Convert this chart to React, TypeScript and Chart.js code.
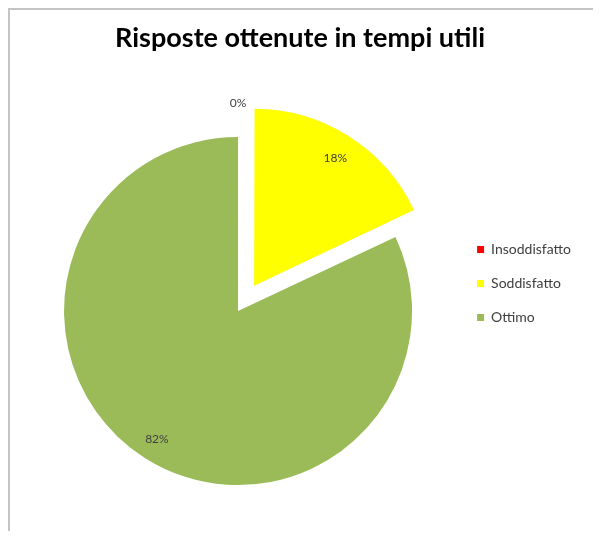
import React, { useEffect, useRef } from 'react';
import { Chart, registerables } from 'chart.js';

Chart.register(...registerables);

const titleText = 'Risposte ottenute in tempi utili';
const categories = ['Insoddisfatto', 'Soddisfatto', 'Ottimo'];
const values = [0, 18, 82];
const colors = ['#FF0000', '#FFFF00', '#9BBB59'];
const explodeOffsets = [0, 120, 0];

const pctLabels = {
  id: 'pctLabels',
  afterDatasetsDraw(chart: any) {
    const ctx = chart.ctx;
    const meta = chart.getDatasetMeta(0);
    const data: number[] = chart.data.datasets[0].data;
    const total = data.reduce((a, b) => a + b, 0);
    ctx.save();
    ctx.font = '12px Lato';
    ctx.fillStyle = '#404040';
    ctx.textAlign = 'center';
    ctx.textBaseline = 'middle';
    meta.data.forEach((arc: any, i: number) => {
      const { x, y, startAngle, endAngle, outerRadius } = arc.getProps(
        ['x', 'y', 'startAngle', 'endAngle', 'outerRadius'],
        true
      );
      const mid = (startAngle + endAngle) / 2;
      const off = ((arc.options && arc.options.offset) || 0) / 4;
      const dist = data[i] === 0 ? outerRadius + 34 : outerRadius * 0.87;
      const px = x + Math.cos(mid) * (off + dist);
      const py = y + Math.sin(mid) * (off + dist);
      ctx.fillText(Math.round((data[i] / total) * 100) + '%', px, py);
    });
    ctx.restore();
  },
};

export default function App() {
  const ref = useRef<HTMLCanvasElement | null>(null);
  useEffect(() => {
    if (!ref.current) return;
    const chart = new Chart(ref.current, {
      type: 'pie',
      data: {
        labels: categories,
        datasets: [
          {
            data: values,
            backgroundColor: colors,
            borderWidth: 0,
            offset: explodeOffsets,
            clip: false,
          } as any,
        ],
      },
      options: {
        responsive: true,
        maintainAspectRatio: false,
        animation: false,
        radius: 174,
        layout: { padding: { left: 9, right: 20, top: 0, bottom: 131.5 } },
        plugins: {
          title: {
            display: true,
            text: titleText,
            color: '#000000',
            font: { family: 'Lato', size: 27, weight: 'bold' },
            padding: { top: 12, bottom: 168.1 },
          },
          legend: {
            position: 'right',
            align: 'start',
            fullSize: false,
            labels: {
              boxWidth: 7,
              boxHeight: 7,
              padding: 20,
              color: '#404040',
              font: { family: 'Lato', size: 14 },
            },
          },
          tooltip: { enabled: false },
        },
      } as any,
      plugins: [pctLabels],
    });
    return () => chart.destroy();
  }, []);

  return (
    <div
      style={{
        width: 593,
        height: 523,
        boxSizing: 'border-box',
        borderTop: '2px solid #c4c4c4',
        borderLeft: '2px solid #c4c4c4',
        position: 'relative',
        background: '#ffffff',
      }}
    >
      <div style={{ position: 'relative', width: 591, height: 521 }}>
        <canvas ref={ref} />
      </div>
    </div>
  );
}
